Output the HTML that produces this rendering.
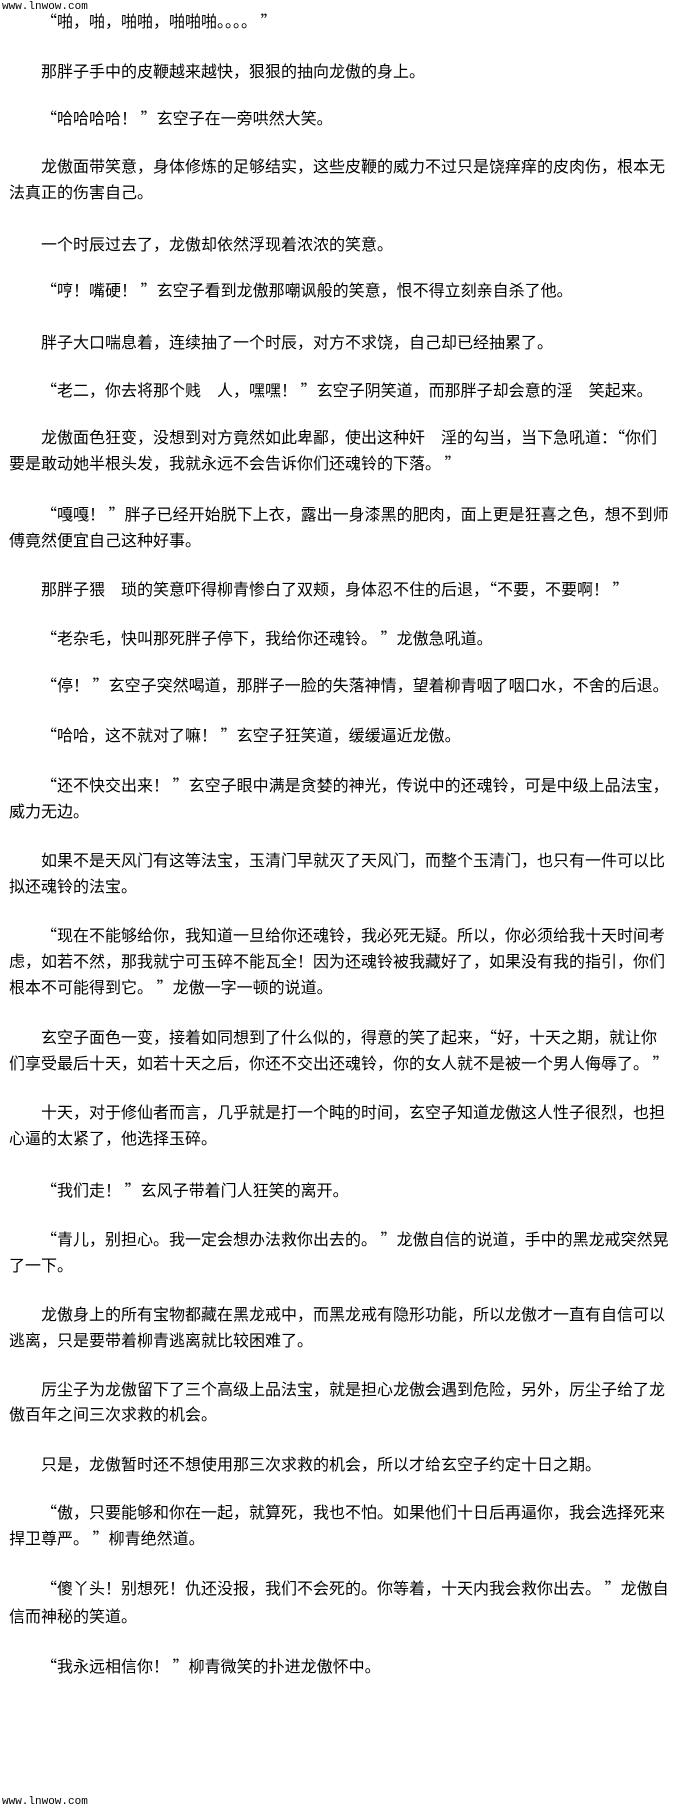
<!DOCTYPE html>
<html><head><meta charset="utf-8">
<style>
html,body{margin:0;padding:0;background:#fff;}
body{width:680px;height:1811px;position:relative;overflow:hidden;}
.l{position:absolute;white-space:nowrap;font-family:"Noto Sans CJK SC","WenQuanYi Zen Hei",sans-serif;font-size:16px;line-height:22px;color:#000;}
.i{left:41px;}
.c{left:9px;}
.w{position:absolute;left:2px;font-family:"Liberation Mono",monospace;font-size:11px;line-height:12px;color:#000;}
</style></head><body>
<div class="w" style="top:1px">www.lnwow.com</div>
<div class="l i" style="top:9px">“啪，啪，啪啪，啪啪啪。。。。 ”</div>
<div class="l i" style="top:59px">那胖子手中的皮鞭越来越快，狠狠的抽向龙傲的身上。</div>
<div class="l i" style="top:106px">“哈哈哈哈！ ”玄空子在一旁哄然大笑。</div>
<div class="l i" style="top:154px">龙傲面带笑意，身体修炼的足够结实，这些皮鞭的威力不过只是饶痒痒的皮肉伤，根本无</div>
<div class="l c" style="top:180px">法真正的伤害自己。</div>
<div class="l i" style="top:232px">一个时辰过去了，龙傲却依然浮现着浓浓的笑意。</div>
<div class="l i" style="top:278px">“哼！嘴硬！ ”玄空子看到龙傲那嘲讽般的笑意，恨不得立刻亲自杀了他。</div>
<div class="l i" style="top:330px">胖子大口喘息着，连续抽了一个时辰，对方不求饶，自己却已经抽累了。</div>
<div class="l i" style="top:378px">“老二，你去将那个贱　人，嘿嘿！ ”玄空子阴笑道，而那胖子却会意的淫　笑起来。</div>
<div class="l i" style="top:425px">龙傲面色狂变，没想到对方竟然如此卑鄙，使出这种奸　淫的勾当，当下急吼道：“你们</div>
<div class="l c" style="top:451px">要是敢动她半根头发，我就永远不会告诉你们还魂铃的下落。 ”</div>
<div class="l i" style="top:502px">“嘎嘎！ ”胖子已经开始脱下上衣，露出一身漆黑的肥肉，面上更是狂喜之色，想不到师</div>
<div class="l c" style="top:528px">傅竟然便宜自己这种好事。</div>
<div class="l i" style="top:577px">那胖子猥　琐的笑意吓得柳青惨白了双颊，身体忍不住的后退，“不要，不要啊！ ”</div>
<div class="l i" style="top:626px">“老杂毛，快叫那死胖子停下，我给你还魂铃。 ”龙傲急吼道。</div>
<div class="l i" style="top:673px">“停！ ”玄空子突然喝道，那胖子一脸的失落神情，望着柳青咽了咽口水，不舍的后退。</div>
<div class="l i" style="top:723px">“哈哈，这不就对了嘛！ ”玄空子狂笑道，缓缓逼近龙傲。</div>
<div class="l i" style="top:773px">“还不快交出来！ ”玄空子眼中满是贪婪的神光，传说中的还魂铃，可是中级上品法宝，</div>
<div class="l c" style="top:799px">威力无边。</div>
<div class="l i" style="top:848px">如果不是天风门有这等法宝，玉清门早就灭了天风门，而整个玉清门，也只有一件可以比</div>
<div class="l c" style="top:874px">拟还魂铃的法宝。</div>
<div class="l i" style="top:923px">“现在不能够给你，我知道一旦给你还魂铃，我必死无疑。所以，你必须给我十天时间考</div>
<div class="l c" style="top:949px">虑，如若不然，那我就宁可玉碎不能瓦全！因为还魂铃被我藏好了，如果没有我的指引，你们</div>
<div class="l c" style="top:975px">根本不可能得到它。 ”龙傲一字一顿的说道。</div>
<div class="l i" style="top:1025px">玄空子面色一变，接着如同想到了什么似的，得意的笑了起来，“好，十天之期，就让你</div>
<div class="l c" style="top:1051px">们享受最后十天，如若十天之后，你还不交出还魂铃，你的女人就不是被一个男人侮辱了。 ”</div>
<div class="l i" style="top:1100px">十天，对于修仙者而言，几乎就是打一个盹的时间，玄空子知道龙傲这人性子很烈，也担</div>
<div class="l c" style="top:1126px">心逼的太紧了，他选择玉碎。</div>
<div class="l i" style="top:1178px">“我们走！ ”玄风子带着门人狂笑的离开。</div>
<div class="l i" style="top:1227px">“青儿，别担心。我一定会想办法救你出去的。 ”龙傲自信的说道，手中的黑龙戒突然晃</div>
<div class="l c" style="top:1253px">了一下。</div>
<div class="l i" style="top:1302px">龙傲身上的所有宝物都藏在黑龙戒中，而黑龙戒有隐形功能，所以龙傲才一直有自信可以</div>
<div class="l c" style="top:1328px">逃离，只是要带着柳青逃离就比较困难了。</div>
<div class="l i" style="top:1377px">厉尘子为龙傲留下了三个高级上品法宝，就是担心龙傲会遇到危险，另外，厉尘子给了龙</div>
<div class="l c" style="top:1402px">傲百年之间三次求救的机会。</div>
<div class="l i" style="top:1452px">只是，龙傲暂时还不想使用那三次求救的机会，所以才给玄空子约定十日之期。</div>
<div class="l i" style="top:1500px">“傲，只要能够和你在一起，就算死，我也不怕。如果他们十日后再逼你，我会选择死来</div>
<div class="l c" style="top:1526px">捍卫尊严。 ”柳青绝然道。</div>
<div class="l i" style="top:1576px">“傻丫头！别想死！仇还没报，我们不会死的。你等着，十天内我会救你出去。 ”龙傲自</div>
<div class="l c" style="top:1604px">信而神秘的笑道。</div>
<div class="l i" style="top:1654px">“我永远相信你！ ”柳青微笑的扑进龙傲怀中。</div>
<div class="w" style="top:1796px">www.lnwow.com</div>
</body></html>
